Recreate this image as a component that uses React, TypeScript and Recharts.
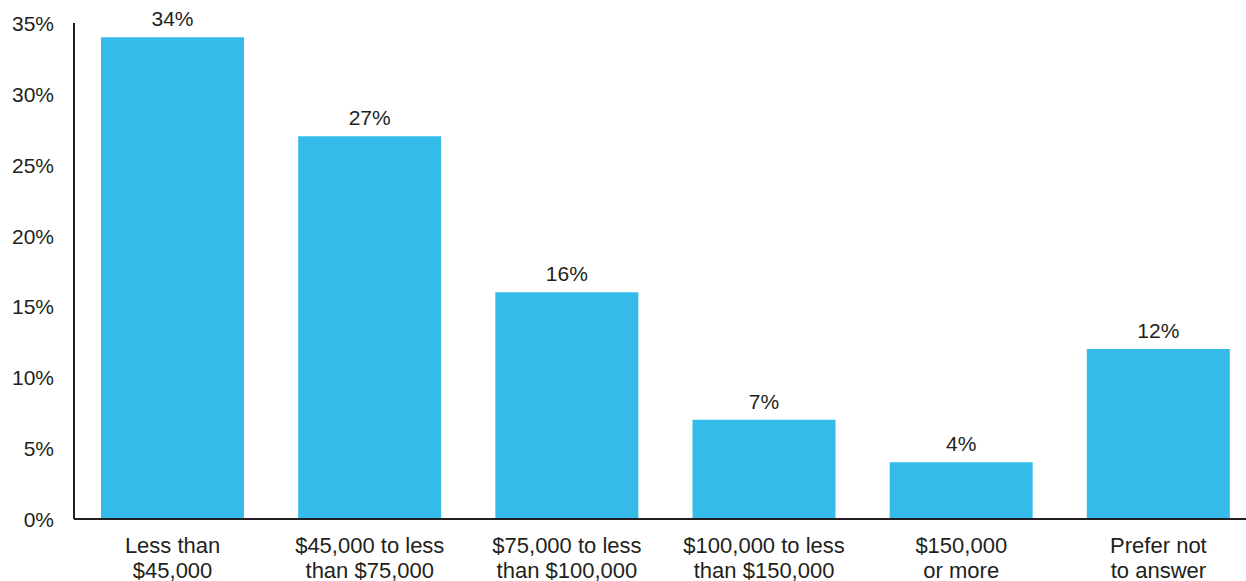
import React from "react";
import { BarChart, Bar, XAxis, YAxis, LabelList } from "recharts";

const categories = [
  "Less than\n$45,000",
  "$45,000 to less\nthan $75,000",
  "$75,000 to less\nthan $100,000",
  "$100,000 to less\nthan $150,000",
  "$150,000\nor more",
  "Prefer not\nto answer",
];
const values = [34, 27, 16, 7, 4, 12];
const yTicks = [0, 5, 10, 15, 20, 25, 30, 35];

const data = categories.map((c, i) => ({ name: c, value: values[i] }));

const TEXT = "#231F20";
const FONT = "'Liberation Sans', Arial, Helvetica, sans-serif";

const XTick = (props: any) => {
  const { x, y, payload } = props;
  const lines = String(payload.value).split("\n");
  return (
    <g transform={`translate(${x},${y})`}>
      {lines.map((l: string, i: number) => (
        <text
          key={i}
          x={0}
          y={26 + i * 25}
          textAnchor="middle"
          fill={TEXT}
          fontSize={22}
          fontFamily={FONT}
        >
          {l}
        </text>
      ))}
    </g>
  );
};

const YTick = (props: any) => {
  const { x, y, payload } = props;
  return (
    <text
      x={x}
      y={y + 8}
      textAnchor="end"
      fill={TEXT}
      fontSize={21}
      fontFamily={FONT}
    >
      {payload.value}%
    </text>
  );
};

export default function App() {
  return (
    <div style={{ position: "absolute", left: 0, top: 0, background: "#fff" }}>
      <BarChart
        width={1262}
        height={581}
        data={data}
        margin={{ top: 23, right: 5, bottom: 0, left: 0 }}
        barCategoryGap={27}
      >
        <XAxis
          dataKey="name"
          height={62}
          interval={0}
          tickLine={false}
          axisLine={{ stroke: "#231F20", strokeWidth: 2 }}
          tick={<XTick />}
        />
        <YAxis
          width={74}
          domain={[0, 35]}
          ticks={yTicks}
          interval={0}
          tickLine={false}
          axisLine={{ stroke: "#231F20", strokeWidth: 2 }}
          tick={<YTick />}
          tickMargin={14}
        />
        <Bar dataKey="value" fill="#34BBEA" isAnimationActive={false}>
          <LabelList
            dataKey="value"
            position="top"
            offset={11}
            formatter={(v: any) => `${v}%`}
            style={{ fill: TEXT, fontSize: 21, fontFamily: FONT }}
          />
        </Bar>
      </BarChart>
    </div>
  );
}
